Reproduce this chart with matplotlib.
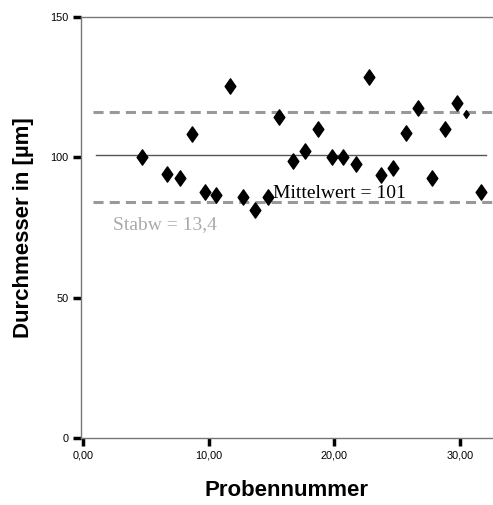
import matplotlib
matplotlib.use("Agg")
import matplotlib.pyplot as plt
from matplotlib.path import Path

# Data
probe = [4.7, 6.7, 7.7, 8.7, 9.7, 10.6, 11.7, 12.75, 13.7, 14.7, 15.6, 16.7,
         17.7, 18.7, 19.8, 20.7, 21.7, 22.8, 23.7, 24.7, 25.7, 26.7, 27.8,
         28.8, 29.75, 31.7]
durchmesser = [100.2, 93.9, 92.7, 108.3, 87.7, 86.6, 125.5, 85.7, 81.2, 86.0,
               114.5, 98.8, 102.4, 110.2, 100.2, 100.2, 97.5, 128.7, 93.7,
               96.1, 108.5, 117.4, 92.5, 110.2, 119.2, 87.7]
small_probe = [30.5]
small_durchmesser = [115.3]
mittelwert = 101
stabw_upper = 116.0
stabw_lower = 84.2
mean_x = [1.0, 32.1]
sd_x = [0.8, 32.7]
x_ticks = [0, 10, 20, 30]
x_ticklabels = ["0,00", "10,00", "20,00", "30,00"]
y_ticks = [0, 50, 100, 150]
y_ticklabels = ["0", "50", "100", "150"]

fig = plt.figure(figsize=(4.93, 5.05), dpi=100)
ax = fig.add_axes([81/493, 67/505, 412/493, 421/505])

diamond = Path([(0, 1), (0.7, 0), (0, -1), (-0.7, 0), (0, 1)],
               [Path.MOVETO, Path.LINETO, Path.LINETO, Path.LINETO, Path.CLOSEPOLY])

ax.plot(sd_x, [stabw_upper]*2, color="#999999", lw=2.2, ls=(0, (3.3, 2.0)), zorder=1)
ax.plot(sd_x, [stabw_lower]*2, color="#999999", lw=2.2, ls=(0, (3.3, 2.0)), zorder=1)
ax.plot(mean_x, [mittelwert]*2, color="#555555", lw=1.0, zorder=1)

ax.plot(probe, durchmesser, ls="none", marker=diamond, markersize=11,
        color="black", zorder=3)
ax.plot(small_probe, small_durchmesser, ls="none", marker=diamond, markersize=5.5,
        color="black", zorder=3)

ax.text(15.1, 85.5, f"Mittelwert = {mittelwert}", family="Liberation Serif",
        fontsize=14, color="black", ha="left", va="baseline", zorder=2)
ax.text(2.4, 74.5, "Stabw = 13,4", family="Liberation Serif",
        fontsize=14, color="#aaaaaa", ha="left", va="baseline", zorder=2)

ax.set_xlim(-0.18, 32.64)
ax.set_ylim(0, 150)
ax.set_xticks(x_ticks)
ax.set_xticklabels(x_ticklabels)
ax.set_yticks(y_ticks)
ax.set_yticklabels(y_ticklabels)
for lab in ax.get_xticklabels() + ax.get_yticklabels():
    lab.set_family("Liberation Sans")
    lab.set_fontsize(7.8)
ax.tick_params(axis="both", direction="out", length=6, width=2.5, color="black")
ax.tick_params(axis="x", pad=3)
ax.tick_params(axis="y", pad=3)

for s in ["left", "bottom", "top"]:
    ax.spines[s].set_color("#777777")
    ax.spines[s].set_linewidth(1.0)
ax.spines["right"].set_visible(False)

ax.set_xlabel("Probennummer", family="Liberation Sans", fontsize=16,
              fontweight="bold", labelpad=14)
ax.set_ylabel("Durchmesser in [µm]", family="Liberation Sans", fontsize=16,
              fontweight="bold", labelpad=12)

fig.savefig("out.png", dpi=100)
